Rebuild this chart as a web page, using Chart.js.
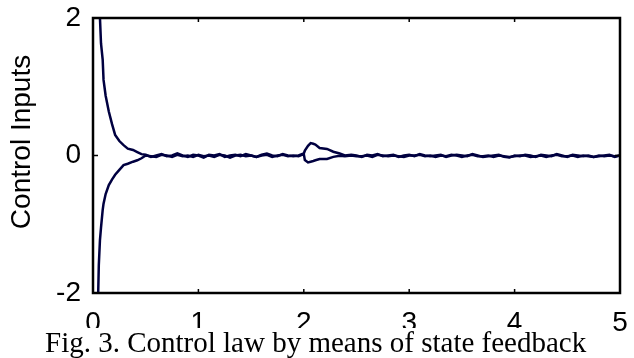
<!DOCTYPE html>
<html>
<head>
<meta charset="utf-8">
<script src="https://cdn.jsdelivr.net/npm/chart.js@4.4.1/dist/chart.umd.min.js"></script>
<style>
  body { margin: 0; background: #fff; }
  #wrap { position: relative; width: 634px; height: 358px; }
  #caption {
    position: absolute; left: 45px; top: 328px;
    font: 29px/29px "Liberation Serif", "Times New Roman", serif;
    color: #000; background: #fff; white-space: nowrap;
  }
</style>
</head>
<body>
<div id="wrap">
  <canvas id="chart" width="634" height="358"></canvas>
  <div id="caption">Fig. 3. Control law by means of state feedback</div>
</div>
<script>
// time samples (s)
const time = [
  0.035, 0.055, 0.066, 0.076, 0.092, 0.1, 0.12, 0.15, 0.18, 0.21, 0.25, 0.29, 0.33, 0.38, 0.42, 0.46,
  0.5, 0.55, 0.6, 0.65, 0.7, 0.75, 0.8, 0.85, 0.9, 0.95,
  1.0, 1.05, 1.1, 1.15, 1.2, 1.25, 1.3, 1.35, 1.4, 1.45,
  1.5, 1.55, 1.6, 1.65, 1.7, 1.75, 1.8, 1.85, 1.9, 1.95,
  2.0, 2.01, 2.04, 2.065, 2.09, 2.11, 2.15, 2.22, 2.28, 2.34, 2.39,
  2.45, 2.5, 2.55, 2.6, 2.65, 2.7, 2.75, 2.8, 2.85, 2.9, 2.95, 3.0, 3.05,
  3.1, 3.15, 3.2, 3.25, 3.3, 3.35, 3.4, 3.45, 3.5, 3.55, 3.6, 3.65, 3.7,
  3.75, 3.8, 3.85, 3.9, 3.95, 4.0, 4.05, 4.1, 4.15, 4.2, 4.25, 4.3, 4.35,
  4.4, 4.45, 4.5, 4.55, 4.6, 4.65, 4.7, 4.75, 4.8, 4.85, 4.9, 4.95, 5.0
];

// first control input (starts high)
const inputOne = [
  3.5, 2.6, 2.0, 1.63, 1.39, 1.1, 0.87, 0.64, 0.46, 0.30, 0.21, 0.15, 0.10, 0.08, 0.05, 0.02,
  0.01, -0.02, 0.00, 0.02, -0.01, 0.00, 0.03, 0.00, -0.02, 0.01,
  0.00, -0.03, 0.01, 0.00, 0.02, -0.02, 0.00, 0.01, -0.01, 0.02,
  0.00, -0.02, 0.01, 0.03, 0.00, -0.01, 0.02, 0.00, -0.01, 0.00,
  0.03, 0.07, 0.14, 0.18, 0.17, 0.16, 0.11, 0.095, 0.055, 0.03, 0.00,
  0.01, 0.00, -0.02, 0.01, 0.00, 0.02, -0.01, 0.00, 0.01, -0.02, 0.00, 0.01, -0.01,
  0.02, 0.00, -0.01, 0.00, 0.01, -0.02, 0.00, 0.01, 0.00, -0.01, 0.02, 0.00, -0.02,
  -0.01, 0.00, 0.01, -0.02, -0.03, 0.00, -0.01, 0.01, 0.00, -0.02, 0.01, 0.00, -0.01,
  0.02, 0.00, -0.02, 0.01, 0.00, -0.01, 0.00, -0.02, -0.01, 0.00, 0.01, -0.02, 0.00
];

// second control input (starts low)
const inputTwo = [
  -3.0, -1.6, -1.23, -1.05, -0.79, -0.70, -0.56, -0.43, -0.35, -0.28, -0.21, -0.14, -0.12, -0.09, -0.07, -0.04,
  0.00, -0.01, -0.02, 0.01, 0.00, -0.02, 0.01, -0.01, 0.00, -0.02,
  0.01, -0.01, 0.00, -0.02, 0.01, 0.00, -0.03, 0.00, 0.01, -0.01,
  0.00, -0.02, 0.00, 0.01, -0.02, 0.00, 0.01, -0.01, 0.00, -0.01,
  0.02, -0.065, -0.10, -0.09, -0.08, -0.07, -0.05, -0.05, -0.02, -0.005, -0.01,
  0.00, -0.01, -0.01, 0.00, -0.02, 0.01, 0.00, -0.01, 0.00, -0.01, -0.02, 0.00, 0.00,
  0.01, -0.01, 0.00, -0.02, 0.00, -0.01, 0.01, 0.00, -0.02, 0.00, 0.01, -0.01, -0.01,
  0.00, -0.02, 0.00, -0.01, -0.02, -0.01, 0.00, 0.00, -0.02, -0.01, 0.00, -0.02, 0.00,
  0.01, -0.01, -0.01, 0.00, -0.02, 0.00, -0.01, -0.02, 0.00, -0.01, 0.00, -0.01, 0.00
];

const xTicks = [0, 1, 2, 3, 4, 5];
const yTicks = [-2, 0, 2];
const yTitle = 'Control Inputs';

const lineColor = '#000040';
const sansFont = '"Liberation Sans", Arial, sans-serif';

// frame, inward tick marks and rotated y label
const framePlugin = {
    id: 'frame',
    afterDraw(chart) {
        const { ctx, chartArea: a, scales } = chart;
        ctx.save();
        ctx.strokeStyle = '#000';
        ctx.lineWidth = 1.5;
        ctx.beginPath();
        xTicks.forEach(v => {
            const px = scales.x.getPixelForValue(v);
            ctx.moveTo(px, a.bottom); ctx.lineTo(px, a.bottom - 4);
            ctx.moveTo(px, a.top); ctx.lineTo(px, a.top + 4);
        });
        yTicks.forEach(v => {
            const py = scales.y.getPixelForValue(v);
            ctx.moveTo(a.left, py); ctx.lineTo(a.left + 5, py);
            ctx.moveTo(a.right, py); ctx.lineTo(a.right - 5, py);
        });
        ctx.stroke();
        ctx.lineWidth = 2.5;
        ctx.strokeRect(a.left, a.top, a.right - a.left, a.bottom - a.top);

        ctx.translate(22, 142);
        ctx.rotate(-Math.PI / 2);
        ctx.fillStyle = '#000';
        ctx.font = '28px ' + sansFont;
        ctx.textAlign = 'center';
        ctx.textBaseline = 'middle';
        ctx.fillText(yTitle, 0, 0);
        ctx.restore();
    }
};

new Chart(document.getElementById('chart'), {
    type: 'line',
    data: {
        datasets: [
            {
                data: time.map((t, i) => ({ x: t, y: inputOne[i] })),
                borderColor: lineColor,
                borderWidth: 2.5,
                pointRadius: 0,
                tension: 0,
                clip: 0
            },
            {
                data: time.map((t, i) => ({ x: t, y: inputTwo[i] })),
                borderColor: lineColor,
                borderWidth: 2.5,
                pointRadius: 0,
                tension: 0,
                clip: 0
            }
        ]
    },
    options: {
        responsive: false,
        animation: false,
        layout: { padding: { top: 18, right: 14, left: 0, bottom: 0 } },
        plugins: {
            legend: { display: false },
            tooltip: { enabled: false }
        },
        scales: {
            x: {
                type: 'linear',
                min: 0,
                max: 5,
                afterFit: scale => {
                    scale.height = 65;
                    scale.paddingLeft = 0;
                    scale.paddingRight = 0;
                },
                afterBuildTicks: scale => { scale.ticks = xTicks.map(v => ({ value: v })); },
                grid: { display: false, drawTicks: false },
                border: { display: false },
                ticks: { color: '#000', padding: 13, maxRotation: 0, font: { size: 28, family: sansFont } }
            },
            y: {
                type: 'linear',
                min: -2,
                max: 2,
                afterFit: scale => {
                    scale.width = 93;
                    scale.paddingTop = 0;
                    scale.paddingBottom = 0;
                },
                afterBuildTicks: scale => { scale.ticks = yTicks.map(v => ({ value: v })); },
                grid: { display: false, drawTicks: false },
                border: { display: false },
                ticks: { color: '#000', padding: 12, font: { size: 28, family: sansFont } }
            }
        }
    },
    plugins: [framePlugin]
});
</script>
</body>
</html>
